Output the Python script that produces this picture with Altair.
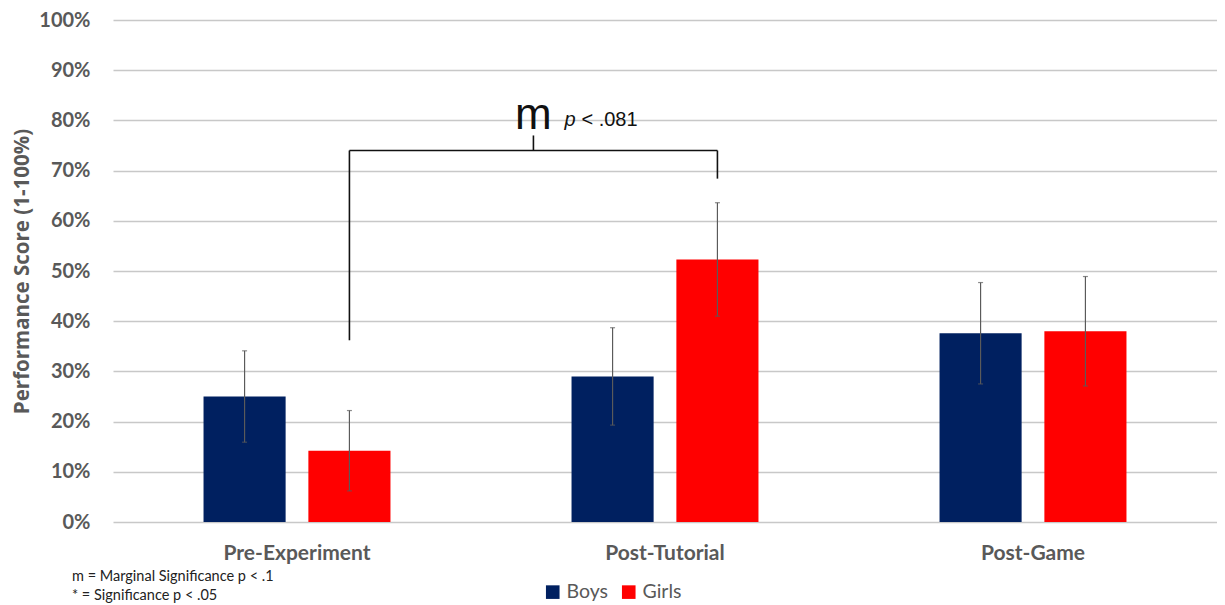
import altair as alt
import pandas as pd

phases = ["Pre-Experiment", "Post-Tutorial", "Post-Game"]
groups = ["Boys", "Girls"]
colors = ["#002060", "#ff0000"]
boys_mean = [0.25, 0.29, 0.376]
girls_mean = [0.142, 0.523, 0.38]
boys_err = [0.091, 0.097, 0.101]
girls_err = [0.08, 0.113, 0.109]
notes_text = ["m = Marginal Significance p < .1", "* = Significance p < .05"]

rows = []
for i, p in enumerate(phases):
    rows.append({"phase": p, "group": "Boys", "mean": boys_mean[i],
                 "lo": boys_mean[i] - boys_err[i], "hi": boys_mean[i] + boys_err[i]})
    rows.append({"phase": p, "group": "Girls", "mean": girls_mean[i],
                 "lo": girls_mean[i] - girls_err[i], "hi": girls_mean[i] + girls_err[i]})
df = pd.DataFrame(rows)

# band scale parameters
P_IN, P_OUT = 0.492, 0.246
O_IN = 0.217
band = 1 - P_IN
ostep = band / (2 - O_IN)
girls_off = (ostep + ostep * (1 - O_IN) / 2) - band / 2

# bracket between Pre-Experiment Girls and Post-Tutorial Girls
xl = 0 + 0.5 + girls_off
xr = 1 + 0.5 + girls_off
xm = (xl + xr) / 2
bracket_top = 0.74
bracket = pd.DataFrame([
    {"x": xl, "x2": xl, "y": 0.362, "y2": bracket_top},
    {"x": xl, "x2": xr, "y": bracket_top, "y2": bracket_top},
    {"x": xr, "x2": xr, "y": 0.684, "y2": bracket_top},
    {"x": xm, "x2": xm, "y": bracket_top, "y2": 0.77},
])
sig = pd.DataFrame([{"x": xm, "y": 0.783}])

FONT = "Lato"
GRAY = "#595959"

xenc = alt.X("phase:N", sort=phases,
             scale=alt.Scale(paddingInner=P_IN, paddingOuter=P_OUT),
             axis=alt.Axis(title=None, labelAngle=0, labelFontSize=21, labelFontWeight="bold",
                           labelColor=GRAY, labelFont=FONT, ticks=False, domain=False,
                           labelPadding=20, grid=False))
xoff = alt.XOffset("group:N", sort=groups, scale=alt.Scale(paddingInner=O_IN, paddingOuter=0))
yscale = alt.Scale(domain=[0, 1])

bars = alt.Chart(df).mark_bar().encode(
    x=xenc, xOffset=xoff,
    y=alt.Y("mean:Q", scale=yscale,
            axis=alt.Axis(format="%", values=[i / 10 for i in range(11)], title="Performance Score (1-100%)",
                          titleFontSize=20.5, titleFontWeight="bold", titleColor=GRAY, titleFont="Open Sans",
                          titlePadding=6, labelFontSize=20, labelFontWeight="bold", labelColor=GRAY,
                          labelFont=FONT, labelPadding=23, ticks=False, domain=False,
                          grid=True, gridColor="#c8c8c8", gridWidth=1.6)),
    color=alt.Color("group:N", sort=groups, scale=alt.Scale(domain=groups, range=colors),
                    legend=alt.Legend(title=None, orient="none", legendX=430, legendY=562,
                                      direction="horizontal", symbolType="square", symbolSize=185,
                                      symbolStrokeWidth=0, labelFontSize=19.5, labelColor=GRAY,
                                      labelFont=FONT, columnPadding=10, labelOffset=4)),
)

ERRC = "#5a5a5a"
err = alt.Chart(df).mark_rule(color=ERRC, strokeWidth=1.2).encode(
    x=alt.X("phase:N", sort=phases), xOffset=alt.XOffset("group:N", sort=groups),
    y=alt.Y("lo:Q", scale=yscale), y2="hi:Q")
cap_hi = alt.Chart(df).mark_tick(color=ERRC, thickness=1.2, size=5).encode(
    x=alt.X("phase:N", sort=phases), xOffset=alt.XOffset("group:N", sort=groups),
    y=alt.Y("hi:Q", scale=yscale))
cap_lo = alt.Chart(df).mark_tick(color=ERRC, thickness=1.2, size=5).encode(
    x=alt.X("phase:N", sort=phases), xOffset=alt.XOffset("group:N", sort=groups),
    y=alt.Y("lo:Q", scale=yscale))

bars_layer = alt.layer(bars, err, cap_hi, cap_lo)

qx = alt.Scale(domain=[0, 3])
br = alt.Chart(bracket).mark_rule(color="#111111", strokeWidth=1.6).encode(
    x=alt.X("x:Q", scale=qx, axis=None), x2="x2:Q",
    y=alt.Y("y:Q", scale=yscale), y2="y2:Q")
m_txt = alt.Chart(sig).mark_text(text="m", fontSize=44, font="Liberation Sans", color="#111111",
                                 baseline="alphabetic", align="center").encode(
    x=alt.X("x:Q", scale=qx, axis=None), y=alt.Y("y:Q", scale=yscale))
p_txt = alt.Chart(sig).mark_text(text="p", fontSize=20, fontStyle="italic", font="Liberation Sans",
                                 color="#111111", baseline="alphabetic", align="left", dx=31, dy=-3).encode(
    x=alt.X("x:Q", scale=qx, axis=None), y=alt.Y("y:Q", scale=yscale))
v_txt = alt.Chart(sig).mark_text(text="<  .081", fontSize=20, font="Liberation Sans",
                                 color="#111111", baseline="alphabetic", align="left", dx=48, dy=-3).encode(
    x=alt.X("x:Q", scale=qx, axis=None), y=alt.Y("y:Q", scale=yscale))

annot = alt.layer(br, m_txt, p_txt, v_txt)

note1 = alt.Chart(pd.DataFrame({"t": [notes_text[0]]})).mark_text(
    fontSize=14.5, font=FONT, color="#222222", align="left", baseline="middle").encode(
    text="t:N", x=alt.value(-41), y=alt.value(557))
note2 = alt.Chart(pd.DataFrame({"t": [notes_text[1]]})).mark_text(
    fontSize=14.5, font=FONT, color="#222222", align="left", baseline="middle").encode(
    text="t:N", x=alt.value(-41), y=alt.value(576))

chart = alt.layer(bars_layer, annot, note1, note2).resolve_scale(x="independent").properties(
    width=1104, height=502,
    autosize=alt.AutoSizeParams(type="none"),
    padding={"left": 105, "top": 12, "right": 0, "bottom": 85},
).configure_view(stroke=None)

chart.save("out.html", embed_options={"renderer": "svg", "actions": False})
